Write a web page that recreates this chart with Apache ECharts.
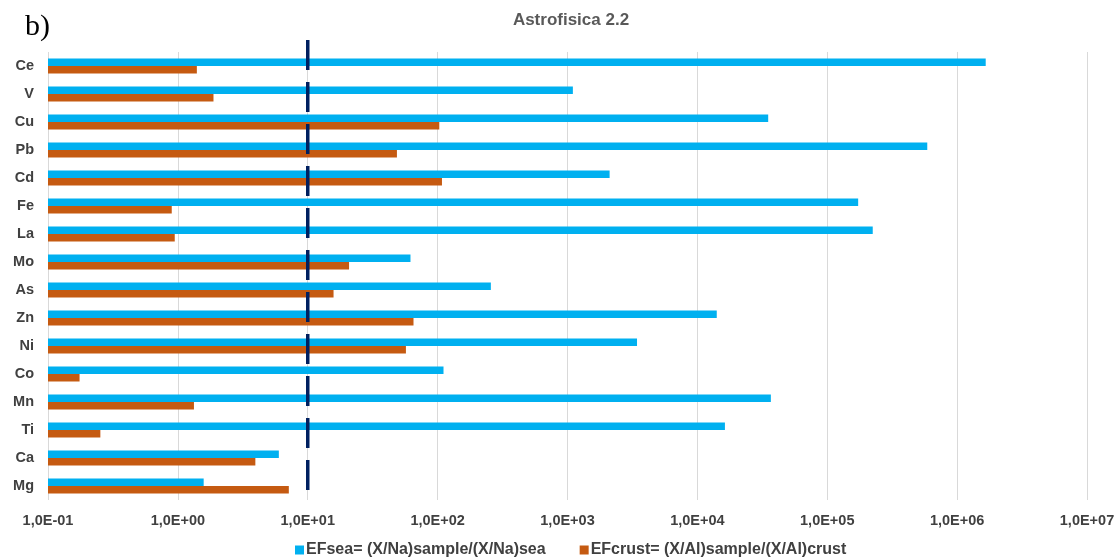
<!DOCTYPE html>
<html>
<head>
<meta charset="utf-8">
<style>
  html, body { margin: 0; padding: 0; background: #fff; }
  #chart { width: 1119px; height: 560px; }
</style>
<script src="https://cdn.jsdelivr.net/npm/echarts@6/dist/echarts.min.js"></script>
</head>
<body>
<div id="chart"></div>
<script>
// Elements, listed top to bottom
const categories = ['Ce', 'V', 'Cu', 'Pb', 'Cd', 'Fe', 'La', 'Mo', 'As', 'Zn', 'Ni', 'Co', 'Mn', 'Ti', 'Ca', 'Mg'];

// Enrichment factor relative to sea water (Na normalised)
const efSea = [1660000, 1100, 35100, 589000, 2110, 173000, 224000, 61.8, 257, 14100, 3430, 111, 36800, 16300, 5.99, 1.58];

// Enrichment factor relative to the crust (Al normalised)
const efCrust = [1.40, 1.88, 103, 48.6, 108, 0.897, 0.946, 20.8, 15.8, 65.2, 57, 0.175, 1.33, 0.253, 3.95, 7.15];

// Threshold EF = 10 (dashed reference line)
const threshold = 10;
const thresholdLine = [[threshold, 1], [threshold, 0]];

// Log axis range
const axisMin = 0.1;
const axisMax = 1e7;

const seriesNames = ['EFsea= (X/Na)sample/(X/Na)sea', 'EFcrust= (X/Al)sample/(X/Al)crust'];
const colors = ['#00B0F0', '#C55A11'];

const font = 'Liberation Sans, Arial, sans-serif';

function sciLabel(v) {
  const e = Math.round(Math.log10(v));
  return '1,0E' + (e < 0 ? '-' : '+') + String(Math.abs(e)).padStart(2, '0');
}

// Bars grow from the left edge of the log axis; slot 0 sits above the band centre, slot 1 below it
const BAR_H = 7.5;
function barRenderer(slot, color) {
  return function (params, api) {
    const value = api.value(0);
    const idx = api.value(1);
    const start = api.coord([axisMin, idx]);
    const end = api.coord([value, idx]);
    const y = start[1] + (slot === 0 ? -BAR_H : 0);
    const rect = echarts.graphic.clipRectByRect(
      { x: start[0], y: y, width: end[0] - start[0], height: BAR_H },
      { x: params.coordSys.x, y: params.coordSys.y, width: params.coordSys.width, height: params.coordSys.height }
    );
    return rect && { type: 'rect', shape: rect, style: { fill: color } };
  };
}

const chart = echarts.init(document.getElementById('chart'), null, { renderer: 'canvas' });

chart.setOption({
  animation: false,
  backgroundColor: '#ffffff',
  title: [
    {
      text: 'Astrofisica 2.2',
      left: 566, top: 7, textAlign: 'center',
      textStyle: { fontFamily: font, fontSize: 17, fontWeight: 'bold', color: '#595959' }
    },
    {
      text: 'b)',
      left: 20, top: 7,
      textStyle: { fontFamily: 'Liberation Serif, Times New Roman, serif', fontSize: 30, fontWeight: 'normal', color: '#000000' }
    }
  ],
  legend: {
    top: 537,
    left: 290,
    itemWidth: 9, itemHeight: 9, itemGap: 34,
    icon: 'rect',
    data: seriesNames.map((n, i) => ({ name: n, itemStyle: { color: colors[i] } })),
    textStyle: { fontFamily: font, fontSize: 16, fontWeight: 'bold', color: '#404040', padding: [0, 0, 0, -3] }
  },
  grid: [
    { left: 48, right: 32, top: 52, bottom: 60, containLabel: false },
    { left: 48, right: 32, top: 40, bottom: 69, containLabel: false }
  ],
  xAxis: [
    {
      type: 'log', logBase: 10, min: axisMin, max: axisMax, gridIndex: 0,
      axisLine: { show: false },
      axisTick: { show: false },
      splitLine: { show: true, lineStyle: { color: '#d9d9d9', width: 1 } },
      axisLabel: { formatter: sciLabel, fontFamily: font, fontSize: 14.5, fontWeight: 'bold', color: '#404040', margin: 13 }
    },
    {
      type: 'log', logBase: 10, min: axisMin, max: axisMax, gridIndex: 1, show: false
    }
  ],
  yAxis: [
    {
      type: 'category', data: categories, inverse: true, gridIndex: 0,
      axisLine: { show: false },
      axisTick: { show: false },
      splitLine: { show: false },
      axisLabel: { fontFamily: font, fontSize: 14.5, fontWeight: 'bold', color: '#404040', margin: 14 }
    },
    {
      type: 'value', min: 0, max: 1, gridIndex: 1, show: false
    }
  ],
  series: [
    {
      name: seriesNames[0], type: 'custom',
      xAxisIndex: 0, yAxisIndex: 0,
      data: efSea.map((v, i) => [v, i]),
      encode: { x: 0, y: 1 },
      itemStyle: { color: colors[0] },
      renderItem: barRenderer(0, colors[0])
    },
    {
      name: seriesNames[1], type: 'custom',
      xAxisIndex: 0, yAxisIndex: 0,
      data: efCrust.map((v, i) => [v, i]),
      encode: { x: 0, y: 1 },
      itemStyle: { color: colors[1] },
      renderItem: barRenderer(1, colors[1])
    },
    {
      name: 'EF = 10', type: 'line', data: thresholdLine,
      xAxisIndex: 1, yAxisIndex: 1,
      symbol: 'none', silent: true, z: 5,
      lineStyle: { color: '#002060', width: 3.5, type: [30, 12] }
    }
  ]
});
</script>
</body>
</html>
